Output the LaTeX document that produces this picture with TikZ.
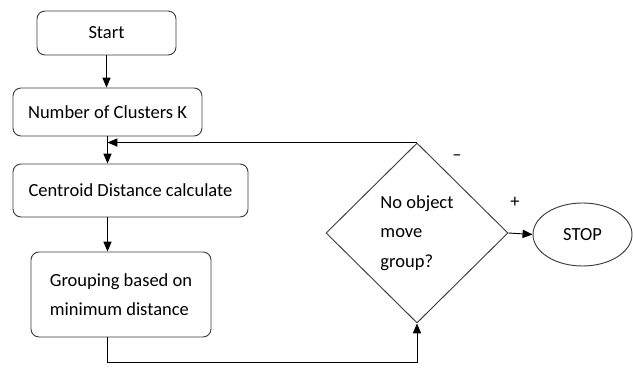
\documentclass[tikz,border=0pt]{standalone}
\usepackage{fontspec}
\setmainfont{Carlito}
\usetikzlibrary{shapes.geometric, arrows.meta, positioning, calc}
\definecolor{BoxEdge}{RGB}{60,60,60}

\begin{document}
\begin{tikzpicture}[x=0.3mm, y=-0.3mm,
    font=\fontsize{15.8}{25}\selectfont,
    box/.style={draw=BoxEdge, rounded corners=2.4mm, line width=0.8pt, inner sep=0pt, align=left},
    flow/.style={line width=0.8pt, -{Triangle[length=8.5pt, width=7pt]}}]
    \useasboundingbox (0,0) rectangle (633,369);

    % Process steps
    \node[box, minimum width=41.7mm, minimum height=13.2mm] (start) at (106.5,33) {Start};
    \node[box, minimum width=56.7mm, minimum height=14.4mm] (clusters) at (107.5,112) {Number of Clusters K};
    \node[box, minimum width=70.5mm, minimum height=15.9mm] (centroid) at (130.5,190.5) {Centroid Distance calculate};
    \node[box, minimum width=54mm, minimum height=25.5mm] (grouping) at (121,294.5) {Grouping based on\\minimum distance};

    % Decision and end
    \node[diamond, draw=BoxEdge, line width=0.8pt, inner sep=0pt, align=left,
          minimum width=54.6mm, minimum height=54mm] (decide) at (417,233) {No object\\move\\group?};
    \node[ellipse, draw=BoxEdge, line width=0.8pt, minimum width=29.7mm, minimum height=18.9mm] (stop) at (582.5,234.5) {STOP};

    % Connectors
    \draw[flow] (start.south) -- (start.south |- clusters.north);
    \draw[flow] (clusters.south) -- (clusters.south |- centroid.north);
    \coordinate (join) at (clusters.south |- decide.north);
    \draw[flow] (decide.north) -- (join);
    \draw[flow] (clusters.south |- centroid.south) -- (clusters.south |- grouping.north);
    \draw[flow] (clusters.south |- grouping.south) -- ++(0,25) -| (decide.south);
    \draw[flow] (decide.east) -- (stop.west);

    \node (minus) at (457,158) {–};
    \node (plus) at (515,202) {+};
\end{tikzpicture}
\end{document}
